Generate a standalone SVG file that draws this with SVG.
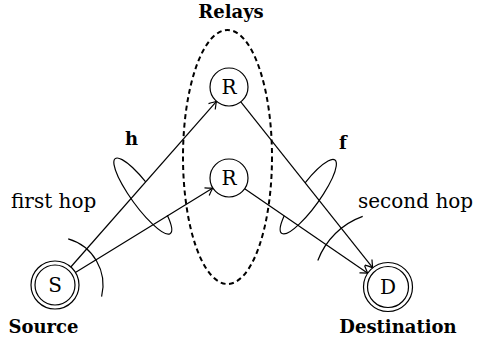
<svg xmlns="http://www.w3.org/2000/svg" width="477" height="347" viewBox="0 0 477 347">
<style>
.ln{fill:none;stroke:#000;stroke-width:1.2}
.nd{fill:#fff;stroke:#000;stroke-width:1.2}
.t{font-family:"DejaVu Serif",serif;font-size:20px;fill:#000}
.tb{font-family:"DejaVu Serif",serif;font-size:18px;font-weight:bold;fill:#000}
.c{text-anchor:middle}
</style>
<defs>
<marker id="ar" markerUnits="userSpaceOnUse" markerWidth="14" markerHeight="14" viewBox="-8 -7 10 14" refX="0" refY="0" orient="auto">
<path d="M-7,-4.5 Q-2,-1 0,0 Q-2,1 -7,4.5" fill="none" stroke="#000" stroke-width="1.2"/>
</marker>
</defs>
<rect width="477" height="347" fill="#fff"/>
<g id="relays-group">
<ellipse cx="227.5" cy="157" rx="44.5" ry="127" fill="none" stroke="#000" stroke-width="2" stroke-dasharray="5 3.5"/>
<text class="tb c" x="231" y="18">Relays</text>
</g>
<g id="connectors">
<line class="ln" x1="70.8" y1="267" x2="216.5" y2="101.3" marker-end="url(#ar)"/>
<line class="ln" x1="75.4" y1="272.4" x2="212.8" y2="188" marker-end="url(#ar)"/>
<line class="ln" x1="240.8" y1="101.9" x2="372.8" y2="267.8" marker-end="url(#ar)"/>
<line class="ln" x1="244.7" y1="188.7" x2="367.8" y2="273.2" marker-end="url(#ar)"/>
<path class="ln" d="M145.7,181.9 A46.5,11 53.7 1 0 167.3,215.3"/>
<path class="ln" d="M305.1,182.8 A45.3,11 -54 1 1 284.2,215.7"/>
<path class="ln" d="M68.2,238.9 A48,48 0 0 1 101.6,296.6"/>
<path class="ln" d="M362.7,216.4 A75,75 0 0 0 317.8,260.5"/>
</g>
<g id="source">
<circle class="nd" cx="55" cy="285" r="24"/>
<circle class="nd" cx="55" cy="285" r="20"/>
<text class="t c" x="55" y="292">S</text>
<text class="tb c" x="43.5" y="333">Source</text>
</g>
<g id="relay-top">
<circle class="nd" cx="229" cy="87" r="19"/>
<text class="t c" x="229" y="94">R</text>
</g>
<g id="relay-bottom">
<circle class="nd" cx="229" cy="178" r="19"/>
<text class="t c" x="229" y="185">R</text>
</g>
<g id="destination">
<circle class="nd" cx="388" cy="287" r="24.5"/>
<circle class="nd" cx="388" cy="287" r="20.5"/>
<text class="t c" x="388" y="294">D</text>
<text class="tb c" x="398" y="333">Destination</text>
</g>
<g id="labels">
<text class="tb" x="125" y="145">h</text>
<text class="tb" x="339" y="149">f</text>
<text class="t" x="11" y="207.5">first hop</text>
<text class="t" x="358" y="207.5">second hop</text>
</g>
</svg>
